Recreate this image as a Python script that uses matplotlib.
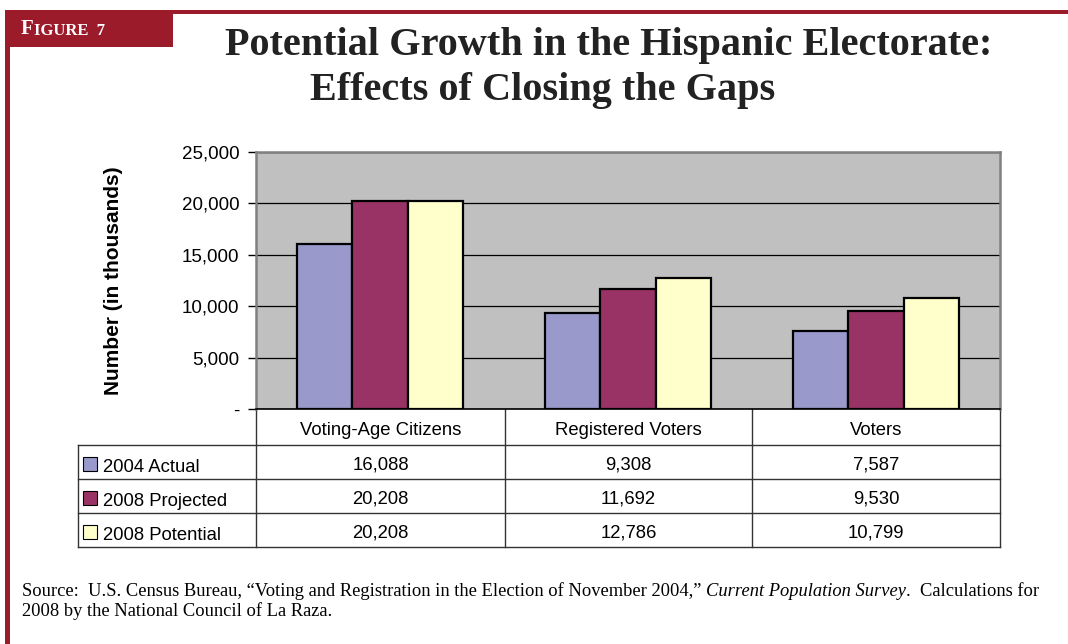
import matplotlib

matplotlib.use("Agg")
import matplotlib.pyplot as plt
import numpy as np
from matplotlib.patches import Rectangle

categories = ["Voting-Age Citizens", "Registered Voters", "Voters"]
series_names = ["2004 Actual", "2008 Projected", "2008 Potential"]
actual_2004 = [16088, 9308, 7587]
projected_2008 = [20208, 11692, 9530]
potential_2008 = [20208, 12786, 10799]
y_ticks = [0, 5000, 10000, 15000, 20000, 25000]
y_tick_labels = ["-", "5,000", "10,000", "15,000", "20,000", "25,000"]

series = [actual_2004, projected_2008, potential_2008]
colors = ["#9999CC", "#993366", "#FFFFCC"]
MAROON = "#9B1B2A"
SANS = "Liberation Sans"
SERIF = "Liberation Serif"

W, H = 1068, 644
fig = plt.figure(figsize=(W / 100, H / 100), dpi=100)
fig.patch.set_facecolor("white")

# full-figure overlay in pixel units for the frame and the data table
page = fig.add_axes([0, 0, 1, 1])
page.set_xlim(0, W)
page.set_ylim(H, 0)
page.axis("off")

# red frame: top rule, left rule and the "Figure 7" tab
page.add_patch(Rectangle((5, 10), W - 5, 4, color=MAROON, lw=0))
page.add_patch(Rectangle((5, 10), 5, H - 10, color=MAROON, lw=0))
page.add_patch(Rectangle((5, 10), 168, 37, color=MAROON, lw=0))
t = page.text(21, 34, "F", color="white", fontsize=15, fontweight="bold",
              family=SERIF, va="baseline")
page.annotate("IGURE  7", xy=(1, 0), xycoords=t, color="white", fontsize=12,
              fontweight="bold", family=SERIF, va="bottom")

page.text(609, 45, "Potential Growth in the Hispanic Electorate:", ha="center",
          va="center", fontsize=29, fontweight="bold", family=SERIF,
          color="#222222")
page.text(543, 90, "Effects of Closing the Gaps", ha="center", va="center",
          fontsize=29, fontweight="bold", family=SERIF, color="#222222")

# chart area
L, R, T, B = 256, 1000, 152, 409
ax = fig.add_axes([L / W, 1 - B / H, (R - L) / W, (B - T) / H])
ax.set_facecolor("#C0C0C0")
x = np.arange(len(categories))
bw = 0.224
for i, (vals, col) in enumerate(zip(series, colors)):
    ax.bar(x + (i - 1) * bw, vals, width=bw, color=col, edgecolor="black",
           linewidth=1.6, zorder=3)
ax.set_xlim(-0.5, len(categories) - 0.5)
ax.set_ylim(0, 25000)
ax.set_yticks(y_ticks)
ax.set_yticklabels(y_tick_labels, fontsize=13.5, family=SANS)
ax.tick_params(axis="y", length=6, width=1, pad=6, color="black")
ax.set_xticks([])
ax.yaxis.grid(True, color="black", lw=0.9, zorder=1)
for side in ["top", "right", "left"]:
    ax.spines[side].set_color("#808080")
    ax.spines[side].set_linewidth(1.8)
ax.spines["bottom"].set_color("black")
ax.spines["bottom"].set_linewidth(1.2)
ax.set_ylabel("Number (in thousands)", fontsize=15, fontweight="bold",
              family=SANS, labelpad=42)

# data table under the chart
col_edges = [L, 505, 752, R]
row_edges = [409, 445, 479, 513, 547]
tab_left = 78
lc = "#333333"
for xe in col_edges:
    page.plot([xe, xe], [row_edges[0], row_edges[-1]], color=lc, lw=1)
page.plot([tab_left, tab_left], [row_edges[1], row_edges[-1]], color=lc, lw=1)
for ye in row_edges[1:]:
    page.plot([tab_left, R], [ye, ye], color=lc, lw=1)

fs_tab = 13.3
for j, cat in enumerate(categories):
    cx = (col_edges[j] + col_edges[j + 1]) / 2
    page.text(cx, (row_edges[0] + row_edges[1]) / 2 + 3, cat, ha="center",
              va="center", fontsize=fs_tab, family=SANS)
for i, (name, vals, col) in enumerate(zip(series_names, series, colors)):
    cy = (row_edges[i + 1] + row_edges[i + 2]) / 2
    page.add_patch(Rectangle((83, cy - 5), 14, 14, facecolor=col,
                             edgecolor="black", lw=0.8))
    page.text(103, cy + 5, name, ha="left", va="center", fontsize=fs_tab,
              family=SANS)
    for j, v in enumerate(vals):
        cx = (col_edges[j] + col_edges[j + 1]) / 2
        page.text(cx, cy + 3, f"{v:,}", ha="center", va="center",
                  fontsize=fs_tab, family=SANS)

# source note, with the survey name set in italics
fs_src = 13.3
s1 = page.text(22, 596, "Source:  U.S. Census Bureau, \u201cVoting and Registration "
               "in the Election of November 2004,\u201d ", fontsize=fs_src,
               family=SERIF, va="baseline")
s2 = page.annotate("Current Population Survey", xy=(1, 0), xycoords=s1,
                   fontsize=fs_src, family=SERIF, style="italic", va="bottom")
page.annotate(".  Calculations for", xy=(1, 0), xycoords=s2, fontsize=fs_src,
              family=SERIF, va="bottom")
page.text(22, 616, "2008 by the National Council of La Raza.", fontsize=fs_src,
          family=SERIF, va="baseline")

fig.savefig("out.png", dpi=100)
